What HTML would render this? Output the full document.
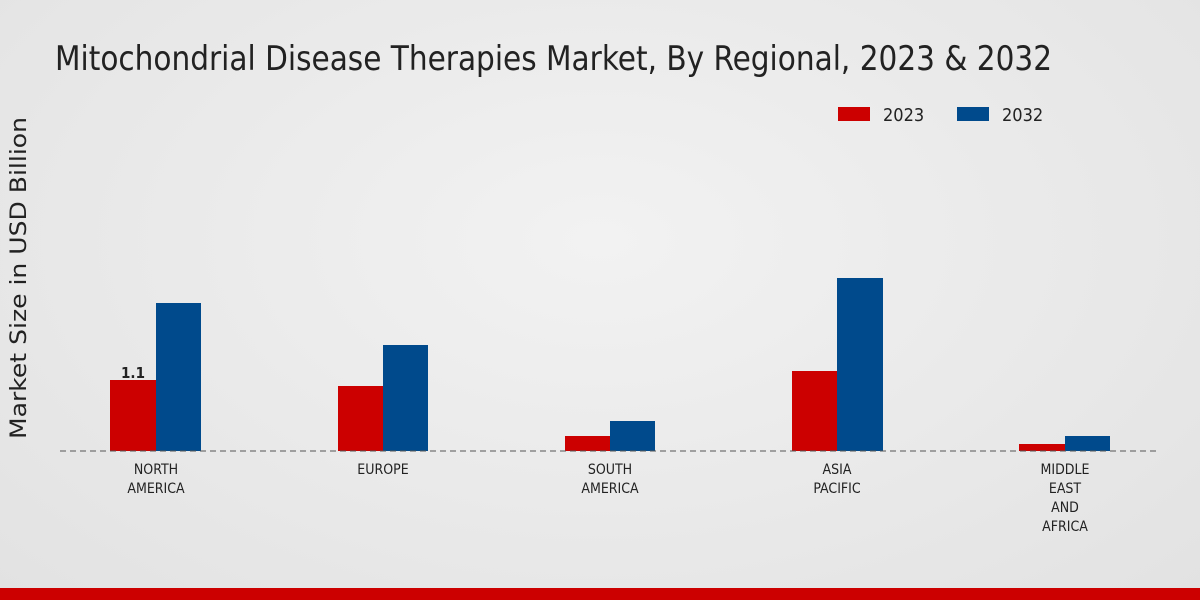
<!DOCTYPE html>
<html><head><meta charset="utf-8"><style>
body{margin:0;width:1200px;height:600px;overflow:hidden;background:radial-gradient(ellipse at 50% 40%,#f2f2f2,#e2e2e2);font-family:"DejaVu Sans Condensed","Liberation Sans",sans-serif;}
</style></head><body>
<svg width="1200" height="600" xmlns="http://www.w3.org/2000/svg" style="position:absolute;left:0;top:0">
<text x="55" y="70" font-size="34" fill="#222" font-family="DejaVu Sans Condensed, Liberation Sans Narrow, sans-serif" textLength="997" lengthAdjust="spacingAndGlyphs">Mitochondrial Disease Therapies Market, By Regional, 2023 &amp; 2032</text>
<rect x="838" y="107" width="32" height="14" fill="#cc0000"/>
<text x="883" y="121" font-size="18" fill="#222">2023</text>
<rect x="957" y="107" width="32" height="14" fill="#004a8c"/>
<text x="1002" y="121" font-size="18" fill="#222">2032</text>
<text transform="translate(26,278) rotate(-90)" font-size="22" fill="#222" text-anchor="middle" font-family="DejaVu Sans, sans-serif" textLength="322" lengthAdjust="spacingAndGlyphs">Market Size in USD Billion</text>
<g>
<rect x="110" y="380" width="46" height="71" fill="#cc0000"/>
<rect x="156" y="303" width="45" height="148" fill="#004a8c"/>
<rect x="338" y="386" width="45" height="65" fill="#cc0000"/>
<rect x="383" y="345" width="45" height="106" fill="#004a8c"/>
<rect x="565" y="436" width="45" height="15" fill="#cc0000"/>
<rect x="610" y="421" width="45" height="30" fill="#004a8c"/>
<rect x="792" y="371" width="45" height="80" fill="#cc0000"/>
<rect x="837" y="278" width="46" height="173" fill="#004a8c"/>
<rect x="1019" y="444" width="46" height="7" fill="#cc0000"/>
<rect x="1065" y="436" width="45" height="15" fill="#004a8c"/>
</g>
<line x1="60" y1="451" x2="1160" y2="451" stroke="#555" stroke-dasharray="6,4" stroke-width="1"/>
<text x="133" y="378" font-size="15" font-weight="bold" fill="#222" text-anchor="middle">1.1</text>
<g font-size="14" fill="#222" text-anchor="middle">
<text x="156" y="474">NORTH</text><text x="156" y="493">AMERICA</text>
<text x="383" y="474">EUROPE</text>
<text x="610" y="474">SOUTH</text><text x="610" y="493">AMERICA</text>
<text x="837" y="474">ASIA</text><text x="837" y="493">PACIFIC</text>
<text x="1065" y="474">MIDDLE</text><text x="1065" y="493">EAST</text><text x="1065" y="512">AND</text><text x="1065" y="531">AFRICA</text>
</g>
<rect x="0" y="588" width="1200" height="12" fill="#cc0000"/>
</svg>
</body></html>
